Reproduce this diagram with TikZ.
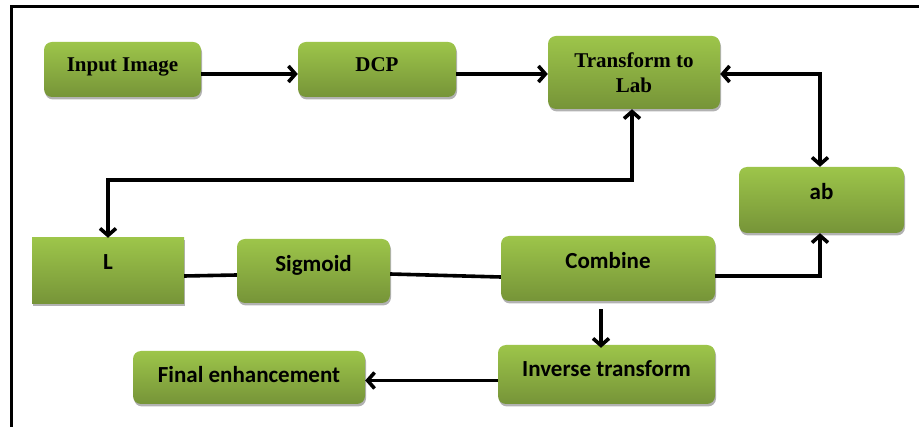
\documentclass[tikz,border=0pt]{standalone}
\usepackage{fontspec}
\setmainfont{Liberation Serif}
\newfontfamily\calfont{Carlito}
\usetikzlibrary{arrows.meta,shadows}
\definecolor{gtop}{RGB}{157,197,74}
\definecolor{gbot}{RGB}{118,148,56}
\tikzset{
  greenbox/.style={rounded corners=8pt, top color=gtop, bottom color=gbot, draw=none,
    drop shadow={shadow xshift=1pt, shadow yshift=-2.5pt, opacity=0.3, fill=black},
    inner sep=0pt, anchor=center},
  serifbox/.style={greenbox, font=\fontsize{21}{25}\selectfont\bfseries},
  sansbox/.style={greenbox, font=\fontsize{23}{27}\selectfont\calfont\bfseries},
  raise/.style={text height=0.7em, text depth=#1},
  conn/.style={line width=3.6pt, draw=black},
  arr/.style={conn, -{Straight Barb[length=7pt,width=16pt]}},
  darr/.style={conn, {Straight Barb[length=7pt,width=16pt]}-{Straight Barb[length=7pt,width=16pt]}}
}
\begin{document}
\begin{tikzpicture}[x=1pt,y=-1pt]
\useasboundingbox (0,0) rectangle (919,427);
\fill[white] (0,0) rectangle (919,427);
% frame
\draw[line width=3.5pt] (11.5,430) -- (11.5,6.5) -- (922,6.5);
% nodes
\node[serifbox, raise=3pt, minimum width=157pt, minimum height=55pt] (in) at (122.5,69.5) {Input Image};
\node[serifbox, raise=3pt, minimum width=158pt, minimum height=55pt] (dcp) at (377,69.5) {DCP};
\node[serifbox, align=center, minimum width=172pt, minimum height=73pt] (lab) at (634,72.5) {Transform to\\Lab};
\node[sansbox, raise=7pt, minimum width=165pt, minimum height=66pt] (ab) at (821.5,200) {ab};
\node[sansbox, rounded corners=0pt, raise=10pt, minimum width=152pt, minimum height=66pt] (L) at (108,271) {L};
\node[sansbox, raise=6pt, minimum width=153pt, minimum height=64pt] (sig) at (313.5,271) {Sigmoid};
\node[sansbox, raise=7pt, minimum width=214pt, minimum height=65pt] (comb) at (608,268.5) {Combine};
\node[sansbox, raise=2pt, minimum width=217pt, minimum height=59pt] (inv) at (606.5,374.5) {Inverse transform};
\node[sansbox, text height=0.7em+3pt, text depth=0pt, minimum width=232pt, minimum height=53pt] (fin) at (249,377.5) {Final enhancement};
% connectors
\draw[arr] ([yshift=-4.5pt]in.east) -- ([yshift=-4.5pt]dcp.west);
\draw[arr] ([yshift=-4.5pt]dcp.east) -- ([yshift=-1.5pt]lab.west);
\draw[darr] ([yshift=-1.5pt]lab.east) -| ([xshift=-1.5pt]ab.north);
\draw[darr] ([xshift=-2pt]lab.south) |- ([yshift=58pt]L.north) -- (L.north);
\draw[conn] ([yshift=-5pt]L.east) -- ([yshift=-4pt]sig.west);
\draw[conn] ([yshift=-3pt]sig.east) -- ([yshift=-8.5pt]comb.west);
\draw[arr] ([yshift=-7.5pt]comb.east) -| ([xshift=-1.5pt]ab.south);
\draw[arr] ([xshift=-7pt,yshift=-8pt]comb.south) -- ([xshift=-5.5pt,yshift=-3pt]inv.north);
\draw[arr] ([yshift=-6pt]inv.west) -- ([yshift=-3pt]fin.east);
\end{tikzpicture}
\end{document}
